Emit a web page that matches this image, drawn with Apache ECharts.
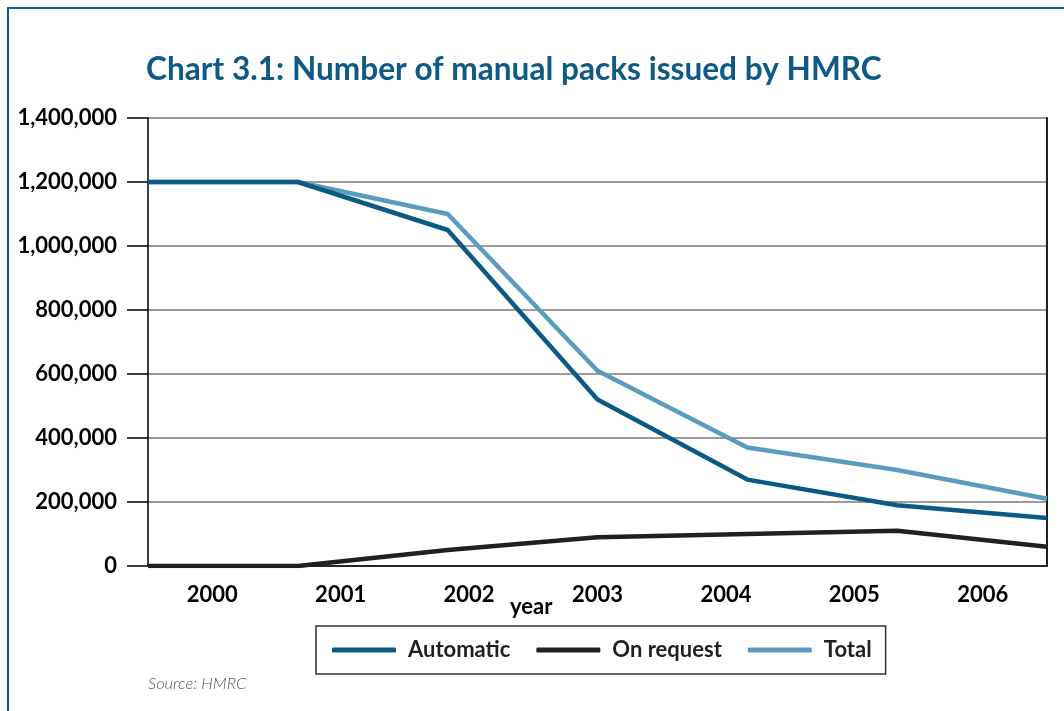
<!DOCTYPE html>
<html>
<head>
<meta charset="utf-8">
<script src="https://cdn.jsdelivr.net/npm/echarts@6/dist/echarts.min.js"></script>
<style>
html,body{margin:0;padding:0;background:#fff;}
#chart{width:1064px;height:711px;}
</style>
</head>
<body>
<div id="chart"></div>
<script>
var years = ['2000', '2001', '2002', '2003', '2004', '2005', '2006'];
var automatic = [1200000, 1200000, 1050000, 520000, 270000, 190000, 150000];
var onRequest = [0, 0, 50000, 90000, 100000, 110000, 60000];
var total = [1200000, 1200000, 1100000, 610000, 370000, 300000, 210000];
var yTicks = [0, 200000, 400000, 600000, 800000, 1000000, 1200000, 1400000];

var FONT = 'Lato, "Open Sans", sans-serif';
var W = 'bold';
var chart = echarts.init(document.getElementById('chart'), null, {renderer: 'canvas'});
chart.setOption({
  backgroundColor: '#ffffff',
  animation: false,
  title: {
    text: 'Chart 3.1: Number of manual packs issued by HMRC',
    left: 141, top: 49,
    textStyle: {fontFamily: FONT, fontWeight: W, fontSize: 31.6, color: '#0e5a86'}
  },
  grid: {left: 148, right: 17, top: 118, bottom: 145, containLabel: false},
  legend: {
    data: [
      {name: 'Automatic', icon: 'roundRect', itemStyle: {color: '#0a5a83'}},
      {name: 'On request', icon: 'roundRect', itemStyle: {color: '#231f20'}},
      {name: 'Total', icon: 'roundRect', itemStyle: {color: '#5b9bbf'}}
    ],
    left: 316, top: 626,
    padding: [13, 14, 13, 16],
    itemGap: 26,
    itemWidth: 64, itemHeight: 5,
    borderColor: '#333', borderWidth: 1.5,
    textStyle: {fontFamily: FONT, fontWeight: W, fontSize: 22, color: '#231f20', padding: [0, 0, 0, 7]}
  },
  xAxis: [{
    type: 'category', data: years, boundaryGap: true, position: 'bottom',
    axisLine: {lineStyle: {color: '#000', width: 1.5}},
    axisTick: {alignWithLabel: true, length: 11, lineStyle: {color: '#000', width: 1.5}},
    axisLabel: {margin: 18, fontFamily: FONT, fontWeight: W, fontSize: 22, color: '#000'},
    splitLine: {show: false}
  }, {
    type: 'category', data: years, boundaryGap: false, show: false
  }],
  yAxis: [{
    type: 'value', min: 0, max: 1400000, interval: 200000,
    axisLine: {show: true, lineStyle: {color: '#000', width: 1.5}},
    axisTick: {show: true, inside: false, length: 21, lineStyle: {color: '#000', width: 1.5}},
    axisLabel: {margin: 31, fontFamily: FONT, fontWeight: W, fontSize: 22, color: '#000',
      formatter: function (v) { return v.toLocaleString('en-US'); }},
    splitLine: {show: true, lineStyle: {color: '#7a7a7a', width: 1.5}}
  }, {
    type: 'value', min: 0, max: 1400000, interval: 200000, position: 'right',
    axisLine: {show: true, lineStyle: {color: '#222', width: 2}},
    axisTick: {show: false}, axisLabel: {show: false}, splitLine: {show: false}
  }],
  series: [{
    name: 'Automatic', type: 'line', data: automatic, xAxisIndex: 1, yAxisIndex: 0,
    symbol: 'none', z: 5,
    lineStyle: {color: '#0a5a83', width: 4.5}, itemStyle: {color: '#0a5a83'}
  }, {
    name: 'On request', type: 'line', data: onRequest, xAxisIndex: 1, yAxisIndex: 0,
    symbol: 'none', z: 4,
    lineStyle: {color: '#231f20', width: 4.5}, itemStyle: {color: '#231f20'}
  }, {
    name: 'Total', type: 'line', data: total, xAxisIndex: 1, yAxisIndex: 0,
    symbol: 'none', z: 3,
    lineStyle: {color: '#5b9bbf', width: 4.5}, itemStyle: {color: '#5b9bbf'}
  }],
  graphic: [{
    type: 'polyline', shape: {points: [[8, 711], [8, 8], [1064, 8]]},
    style: {stroke: '#17608e', lineWidth: 2, fill: null}
  }, {
    type: 'text', left: 510, top: 596,
    style: {text: 'year', fontFamily: FONT, fontWeight: W, fontSize: 22, fill: '#000'}
  }, {
    type: 'text', left: 148, top: 675,
    style: {text: 'Source: HMRC', fontFamily: FONT, fontStyle: 'italic', fontWeight: 300, fontSize: 16.5, fill: '#555'}
  }]
});
</script>
</body>
</html>
